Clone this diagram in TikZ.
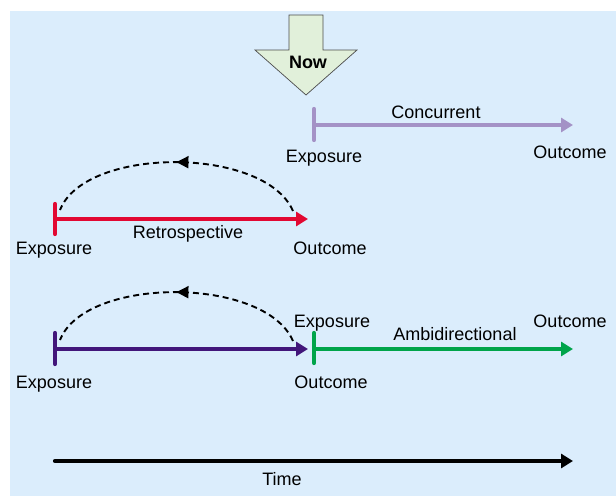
\documentclass[tikz,border=0pt]{standalone}
\usepackage{fontspec}
\setmainfont{Liberation Sans}
\usetikzlibrary{arrows.meta, decorations.markings}
\definecolor{back}{RGB}{219, 237, 252}
\definecolor{nowfill}{RGB}{225, 240, 218}
\definecolor{conc}{RGB}{164, 146, 198}
\definecolor{retro}{RGB}{226, 8, 50}
\definecolor{ambi}{RGB}{66, 22, 122}
\definecolor{forw}{RGB}{0, 164, 74}

\tikzset{
  label/.style={anchor=base, inner sep=0pt, font=\fontsize{18}{21}\selectfont},
  timeline/.style={line width=4.2pt, -{Triangle[length=12pt, width=14pt]}},
  tick/.style={line width=4.2pt, line cap=round},
  back arc/.style={dashed, line width=1.9pt, dash pattern=on 6pt off 4pt,
    postaction={decorate, decoration={markings,
      mark=at position 0.5 with {\arrow{Triangle[length=12pt, width=12pt]}}}}}
}

\begin{document}
\begin{tikzpicture}[x=1pt, y=-1pt]
  \useasboundingbox (0, 0) rectangle (616, 496);
  \fill[back] (10, 11) rectangle (616, 496);

  % now arrow
  \filldraw[fill=nowfill, draw=black!70, line width=0.7pt]
    (289, 15) -- (323, 15) -- (323, 50) -- (357, 50) -- (306, 95)
    -- (255, 50) -- (289, 50) -- cycle;
  \node[label, font=\fontsize{18}{21}\selectfont\bfseries] (now) at (308, 68) {Now};

  % concurrent
  \coordinate (conc-s) at (314, 125);
  \coordinate (conc-e) at (573, 125);
  \draw[conc, timeline] (conc-s) -- (conc-e);
  \draw[conc, tick] (314, 109) -- (314, 140);
  \node[label] (conc-lab) at (436, 118) {Concurrent};
  \node[label] (conc-exp) at (324, 162) {Exposure};
  \node[label] (conc-out) at (570, 158) {Outcome};

  % retrospective
  \coordinate (retro-s) at (55, 219);
  \coordinate (retro-e) at (308, 219);
  \draw[retro, timeline] (retro-s) -- (retro-e);
  \draw[retro, tick] (55, 204) -- (55, 234);
  \coordinate (retro-a) at (293, 211);
  \coordinate (retro-b) at (60, 210);
  \draw[back arc] (retro-a) .. controls (265, 146) and (85, 146) .. (retro-b);
  \node[label] (retro-lab) at (188, 238) {Retrospective};
  \node[label] (retro-exp) at (54, 254) {Exposure};
  \node[label] (retro-out) at (330, 254) {Outcome};

  % ambidirectional
  \coordinate (ambi-s) at (55, 349);
  \coordinate (ambi-e) at (308, 349);
  \draw[ambi, timeline] (ambi-s) -- (ambi-e);
  \draw[ambi, tick] (55, 333) -- (55, 364);
  \coordinate (ambi-a) at (293, 341);
  \coordinate (ambi-b) at (60, 340);
  \draw[back arc] (ambi-a) .. controls (265, 276) and (85, 276) .. (ambi-b);
  \coordinate (forw-s) at (314, 349);
  \coordinate (forw-e) at (573, 349);
  \draw[forw, timeline] (forw-s) -- (forw-e);
  \draw[forw, tick] (314, 333) -- (314, 363);
  \node[label] (ambi-lab) at (455, 340) {Ambidirectional};
  \node[label] (ambi-exp) at (54, 388) {Exposure};
  \node[label] (forw-exp) at (332, 327) {Exposure};
  \node[label] (ambi-out) at (331, 388) {Outcome};
  \node[label] (forw-out) at (570, 327) {Outcome};

  % time
  \coordinate (time-s) at (55, 461);
  \coordinate (time-e) at (573, 461);
  \draw[black, timeline, line cap=round] (time-s) -- (time-e);
  \node[label] (time) at (282, 485) {Time};
\end{tikzpicture}
\end{document}
